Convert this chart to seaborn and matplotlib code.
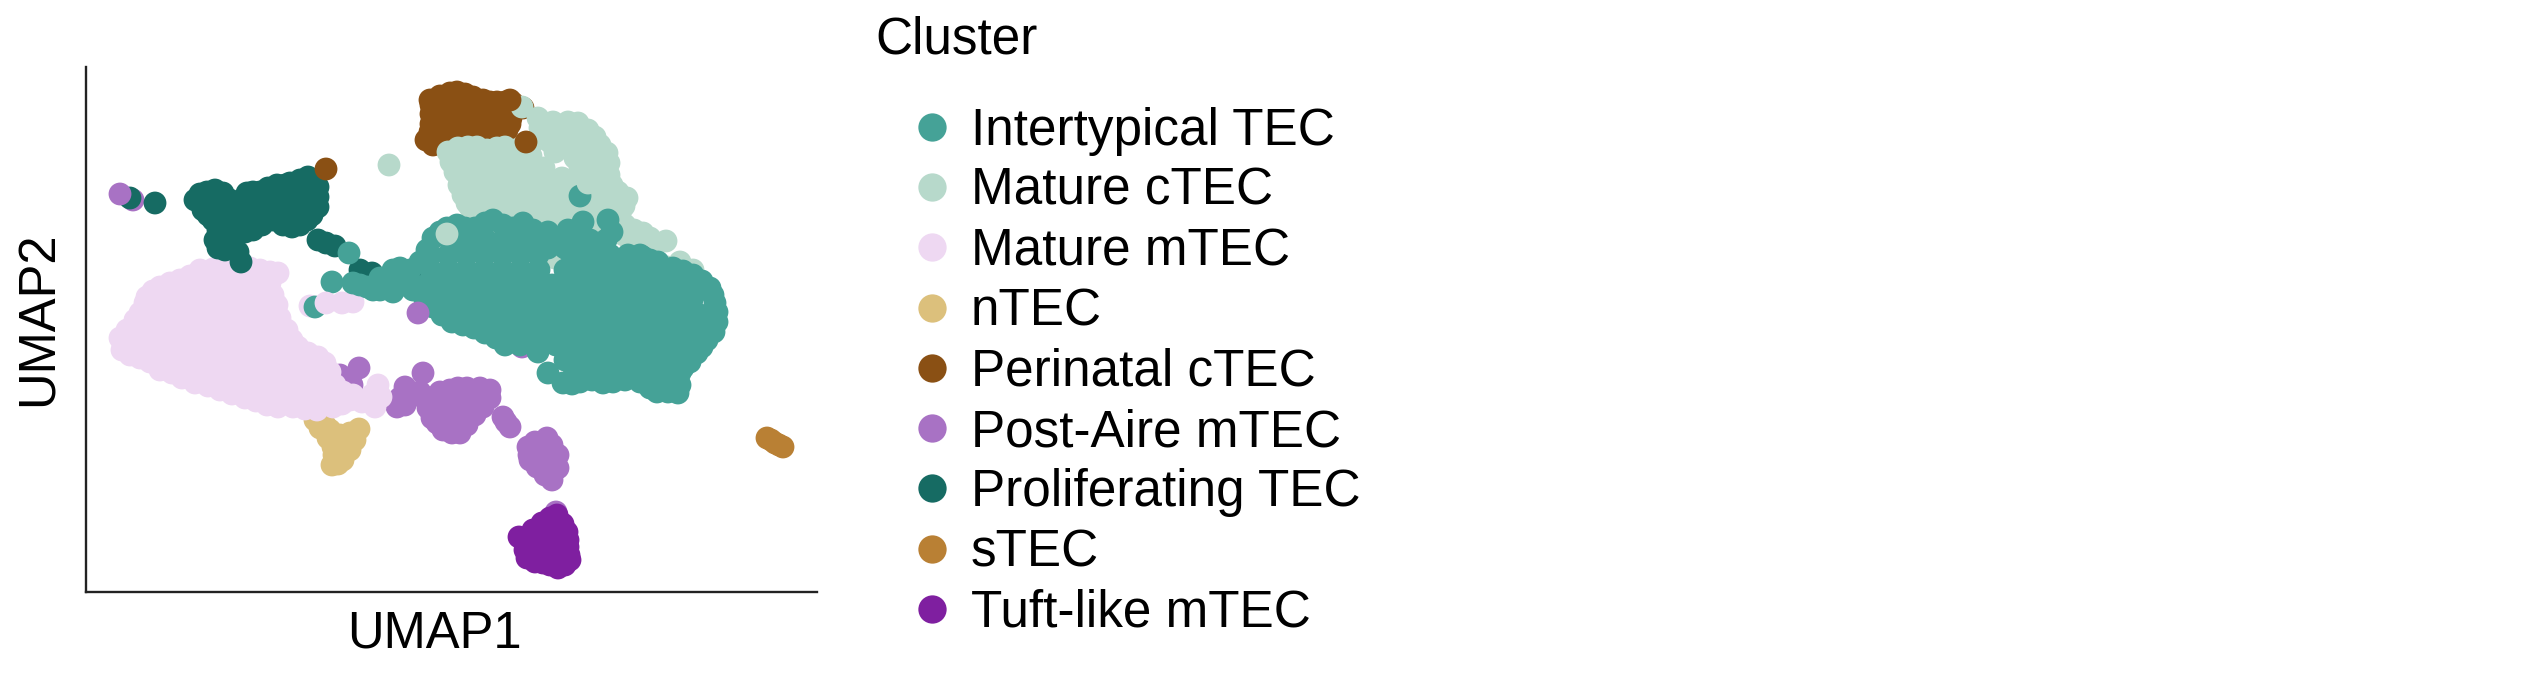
# UMAP of thymic epithelial cell clusters
import matplotlib
matplotlib.use("Agg")
import matplotlib.pyplot as plt
import pandas as pd
import seaborn as sns

# Legend order and colours
clusters = ["Intertypical TEC", "Mature cTEC", "Mature mTEC", "nTEC", "Perinatal cTEC",
            "Post-Aire mTEC", "Proliferating TEC", "sTEC", "Tuft-like mTEC"]
colors = ["#45A297", "#B7D9CB", "#EED8F2", "#DCC07C", "#8A5014",
          "#A872C4", "#166B63", "#B98034", "#7F1FA0"]

# Cell positions (x, y), on the reference's pixel grid
perinatal = [(430, 100), (440, 96), (450, 93), (457, 92), (465, 94), (473, 97), (483, 100), (490, 102), (497, 102),
             (505, 102), (513, 103), (523, 108),
             (431, 105), (441, 104), (451, 102), (461, 102), (471, 104), (481, 106), (491, 108), (501, 108), (511, 110),
             (431, 114), (441, 114), (451, 112), (461, 112), (471, 114), (481, 114), (491, 116), (501, 116), (511, 118),
             (431, 124), (441, 124), (451, 122), (461, 122), (471, 124), (481, 124), (491, 124), (501, 124), (510, 124),
             (430, 132), (440, 134), (450, 132), (460, 134), (470, 134), (480, 132), (490, 134), (500, 132), (507, 130),
             (426, 140), (433, 145), (442, 142), (452, 140), (462, 140), (472, 140), (487, 137)]
mature_ctec = [(538, 118), (553, 122), (568, 122), (578, 123), (588, 130), (595, 137), (600, 145), (607, 153),
               (609, 163), (609, 175), (612, 185), (618, 192), (627, 198), (624, 206), (620, 214), (625, 225),
               (634, 230), (643, 233), (650, 238), (666, 241), (655, 245), (540, 128), (543, 138), (533, 142),
               (555, 132), (565, 132), (575, 135), (585, 140), (550, 142), (560, 142), (570, 145), (580, 148),
               (590, 150), (600, 155),
               (448, 152), (451, 162), (455, 172), (459, 185), (463, 195), (467, 203), (470, 207), (475, 215),
               (480, 220), (458, 148), (468, 147), (477, 147), (487, 150), (497, 148), (505, 147), (515, 150),
               (525, 147),
               (463, 158), (480, 158), (497, 158), (514, 158), (531, 156), (555, 152), (575, 158), (592, 160),
               (472, 168), (490, 168), (508, 168), (526, 168), (544, 168), (562, 178), (580, 168), (598, 168),
               (477, 180), (495, 180), (513, 180), (531, 180), (549, 180), (567, 182), (585, 180), (603, 180),
               (470, 190), (486, 190), (504, 190), (522, 190), (540, 190), (558, 190), (576, 190), (594, 190),
               (610, 192), (483, 198), (501, 198), (519, 198), (537, 198), (555, 198), (573, 200), (591, 200),
               (609, 200), (488, 208), (506, 208), (524, 208), (542, 208), (560, 208), (578, 208), (596, 208),
               (614, 208), (495, 218), (513, 218), (531, 218), (549, 218), (567, 218), (585, 218), (603, 218),
               (498, 228), (516, 228), (534, 228), (552, 228), (570, 228), (588, 228), (606, 228), (624, 235),
               (630, 240), (637, 250), (650, 255), (667, 267), (680, 262), (693, 270), (555, 258), (389, 165)]
post_aire = [(133, 200), (359, 368), (345, 383), (340, 375), (350, 378), (352, 385), (340, 383),
             (423, 373), (405, 387), (397, 407), (400, 398), (410, 397), (405, 405), (415, 395), (420, 392),
             (430, 398), (428, 408), (432, 418), (437, 423), (443, 430), (452, 433), (460, 433), (467, 425),
             (475, 415), (483, 407), (490, 398), (490, 390), (480, 388), (467, 388), (458, 388), (450, 390),
             (440, 392), (440, 405), (450, 405), (460, 398), (470, 398), (480, 398), (440, 415), (450, 415),
             (460, 415), (470, 405), (450, 425), (460, 425),
             (503, 417), (506, 422), (510, 427),
             (528, 447), (535, 442), (547, 438), (552, 445), (558, 455), (558, 468), (552, 480), (545, 475),
             (537, 467), (530, 460), (529, 455), (540, 452), (548, 450), (545, 462), (555, 470),
             (556, 512), (522, 347)]
ntec = [(315, 420), (320, 428), (328, 438), (333, 447), (334, 455), (332, 465), (338, 464), (343, 460), (350, 450),
        (355, 440), (359, 429), (350, 433), (340, 435), (330, 430), (340, 445), (345, 450), (338, 455), (325, 425)]
mature_mtec = [(120, 338), (127, 330), (135, 320), (140, 313), (145, 303), (147, 297), (153, 291), (160, 287),
               (170, 283), (180, 280), (190, 276), (200, 270), (213, 269), (222, 268), (230, 263), (240, 265),
               (250, 268), (260, 270), (270, 272), (278, 273), (270, 283), (273, 295), (277, 305), (280, 318),
               (287, 330), (292, 340), (298, 347), (308, 353), (318, 357), (325, 363), (330, 372), (335, 385),
               (122, 350), (130, 355), (140, 358), (150, 362), (160, 370), (172, 373), (182, 378), (195, 383),
               (208, 386), (220, 390), (232, 394), (245, 398), (256, 401), (267, 405), (278, 407), (293, 407),
               (305, 409), (317, 410), (333, 407), (342, 404), (350, 400), (362, 402), (375, 407), (381, 397),
               (378, 385), (372, 395), (353, 395),
               (200, 282), (218, 282), (236, 282), (254, 282), (183, 290), (201, 292), (219, 292), (237, 292),
               (255, 292), (165, 298), (183, 302), (201, 302), (219, 302), (237, 302), (255, 302), (160, 308),
               (178, 312), (196, 312), (214, 312), (232, 312), (250, 312), (265, 312), (150, 320), (168, 322),
               (186, 322), (204, 322), (222, 322), (240, 322), (258, 322), (140, 330), (158, 332), (176, 332),
               (194, 332), (212, 332), (230, 332), (248, 332), (266, 332), (132, 342), (150, 342), (168, 342),
               (186, 342), (204, 342), (222, 342), (240, 342), (258, 342), (276, 342), (145, 352), (163, 352),
               (181, 352), (199, 352), (217, 352), (235, 352), (253, 352), (271, 352), (289, 352), (170, 362),
               (188, 362), (206, 362), (224, 362), (242, 362), (260, 362), (278, 362), (296, 362), (312, 365),
               (195, 372), (213, 372), (231, 372), (249, 372), (267, 372), (285, 372), (303, 372), (321, 372),
               (225, 382), (243, 382), (261, 382), (279, 382), (297, 382), (315, 382), (330, 382), (255, 392),
               (273, 392), (291, 392), (309, 392), (327, 392), (343, 392), (300, 400), (320, 400), (310, 306),
               (342, 303), (353, 302)]
proliferating = [(130, 198), (155, 203), (195, 200), (200, 194), (207, 192), (215, 190), (223, 193), (230, 200),
                 (203, 210), (208, 215), (213, 220), (218, 230), (215, 240), (218, 248), (225, 250), (233, 240),
                 (238, 252), (241, 262), (233, 235), (247, 193), (253, 192), (260, 192), (268, 188), (277, 185),
                 (285, 185), (290, 183), (300, 180), (308, 177), (316, 183), (318, 187), (318, 197), (318, 207),
                 (312, 215), (307, 220), (300, 225), (292, 227), (283, 225), (273, 220), (262, 225), (253, 230),
                 (245, 232), (318, 240), (326, 243), (335, 246), (360, 270), (372, 273), (418, 269),
                 (210, 202), (222, 205), (234, 210), (246, 205), (258, 202), (270, 198), (282, 196), (294, 194),
                 (306, 190), (262, 210), (276, 208), (290, 207), (304, 204), (218, 215), (230, 222), (245, 218),
                 (258, 218), (272, 212), (285, 216), (298, 214), (225, 232), (240, 228)]
intertypical = [(349, 253), (332, 282), (353, 283), (360, 285), (367, 287), (373, 290), (380, 290), (385, 283),
                (393, 292), (403, 285), (413, 290), (380, 278), (393, 270),
                (400, 268), (410, 270), (420, 262), (427, 250), (315, 307), (457, 225), (465, 228), (475, 228),
                (485, 223), (493, 220), (503, 225), (513, 228), (523, 223), (533, 230), (440, 232), (447, 228),
                (433, 238), (583, 222), (568, 230), (548, 232), (608, 220), (612, 232), (643, 257), (650, 260),
                (658, 262), (673, 268), (683, 271), (693, 275), (702, 281), (710, 288), (713, 295), (715, 303),
                (717, 312), (717, 322), (714, 332), (707, 340), (702, 347), (697, 353), (690, 362), (683, 368),
                (680, 373), (680, 385), (678, 393), (668, 392), (657, 392), (650, 388), (640, 382), (625, 380),
                (613, 382), (603, 383), (592, 380), (580, 382), (572, 384), (563, 383), (548, 373), (538, 352),
                (507, 343), (496, 338), (485, 333), (474, 328), (463, 325), (452, 322), (442, 315), (433, 307),
                (450, 240), (468, 240), (486, 240), (504, 240), (522, 240), (540, 240), (552, 240), (575, 240),
                (590, 240), (606, 240), (548, 248), (565, 248), (570, 252),
                (430, 255), (448, 255), (466, 255), (484, 255), (502, 255), (520, 255), (538, 255), (574, 255),
                (592, 255), (610, 255), (628, 255), (640, 255),
                (431, 270), (449, 270), (467, 270), (485, 270), (503, 270), (521, 270), (539, 270), (565, 270),
                (583, 270), (601, 270), (619, 270), (637, 270), (655, 270),
                (408, 285), (426, 285), (444, 285), (462, 285), (480, 285), (498, 285), (516, 285), (534, 285),
                (552, 285), (570, 285), (588, 285), (606, 285), (624, 285), (642, 285), (660, 285), (678, 285),
                (698, 285),
                (425, 300), (440, 300), (458, 300), (476, 300), (494, 300), (512, 300), (530, 300), (548, 300),
                (566, 300), (584, 300), (602, 300), (620, 300), (638, 300), (656, 300), (674, 300), (692, 300),
                (448, 315), (466, 315), (484, 315), (502, 315), (520, 315), (538, 315), (556, 315), (574, 315),
                (592, 315), (610, 315), (628, 315), (646, 315), (664, 315), (682, 315), (700, 315),
                (493, 330), (511, 330), (529, 330), (547, 330), (565, 330), (583, 330), (601, 330), (619, 330),
                (637, 330), (655, 330), (673, 330), (691, 330), (710, 330),
                (505, 345), (520, 345), (538, 345), (556, 345), (574, 345), (592, 345), (610, 345), (628, 345),
                (646, 345), (664, 345), (682, 345),
                (565, 360), (583, 360), (601, 360), (619, 360), (637, 360), (655, 360), (673, 360),
                (574, 375), (592, 375), (610, 375), (628, 375), (646, 375), (664, 375)]
tuft = [(570, 560), (565, 565), (558, 568), (550, 565), (543, 563), (535, 562), (527, 558), (525, 550), (519, 537),
        (528, 540), (533, 530), (542, 523), (550, 518), (557, 515), (563, 524), (567, 532), (568, 540), (568, 547),
        (569, 555), (540, 535), (550, 528), (555, 535), (545, 545), (535, 550), (558, 545), (550, 555), (560, 555),
        (540, 555)]
stec = [(767, 438), (771, 440), (775, 443), (779, 445), (783, 447)]

# A few cells that sit on top of the other clusters
late_clusters = ["Intertypical TEC", "Mature cTEC", "Perinatal cTEC", "Post-Aire mTEC", "Post-Aire mTEC",
                 "Mature cTEC", "Mature cTEC", "Perinatal cTEC", "Mature mTEC", "Perinatal cTEC"]
late_points = [(580, 196), (588, 183), (326, 169), (418, 313), (120, 194),
               (447, 234), (522, 107), (510, 100), (326, 303), (526, 142)]

AXIS_LEFT, AXIS_RIGHT, AXIS_TOP, AXIS_BOTTOM = 85.5, 816.5, 67, 591.5


def build_table():
    groups = [("Perinatal cTEC", perinatal), ("Mature cTEC", mature_ctec), ("Post-Aire mTEC", post_aire),
              ("nTEC", ntec), ("Mature mTEC", mature_mtec), ("Proliferating TEC", proliferating),
              ("Intertypical TEC", intertypical), ("Tuft-like mTEC", tuft), ("sTEC", stec)]
    rows = []
    for name, points in groups:
        rows += [(name, x, y) for x, y in points]
    rows += [(name, x, y) for name, (x, y) in zip(late_clusters, late_points)]
    return pd.DataFrame(rows, columns=["cluster", "umap1", "umap2"])


def main():
    sns.set_theme(style="white")
    plt.rcParams["font.family"] = ["Liberation Sans", "DejaVu Sans"]
    plt.rcParams["text.color"] = "black"
    plt.rcParams["axes.labelcolor"] = "black"
    fig = plt.figure(figsize=(25.4, 6.73), dpi=100)
    ax = fig.add_axes([AXIS_LEFT / 2540, (673 - AXIS_BOTTOM) / 673,
                       (AXIS_RIGHT - AXIS_LEFT) / 2540, (AXIS_BOTTOM - AXIS_TOP) / 673])

    df = build_table()
    sns.scatterplot(data=df, x="umap1", y="umap2", hue="cluster", hue_order=clusters,
                    palette=dict(zip(clusters, colors)), s=270, linewidth=0, ax=ax)

    ax.set_xlim(AXIS_LEFT, AXIS_RIGHT)
    ax.set_ylim(AXIS_BOTTOM, AXIS_TOP)
    ax.set_xticks([])
    ax.set_yticks([])
    ax.set_xlabel("UMAP1", fontsize=36.5)
    ax.set_ylabel("UMAP2", fontsize=36.5)
    # label centres measured on the reference
    ax.xaxis.set_label_coords(0.478, -0.035)
    ax.yaxis.set_label_coords(-0.03, 0.52)
    sns.despine(ax=ax)
    for side in ["left", "bottom"]:
        ax.spines[side].set_linewidth(1.7)
        ax.spines[side].set_color("#222222")

    handles, labels = ax.get_legend_handles_labels()
    legend = ax.legend(handles, labels, title="Cluster", fontsize=36.9, title_fontsize=36.9,
                       loc="upper left", bbox_to_anchor=(875 / 2540, 1 - 16 / 673),
                       bbox_transform=fig.transFigure, frameon=False, borderpad=0, borderaxespad=0,
                       handlelength=2.234, handletextpad=-0.367, labelspacing=0.22, markerscale=1.24)
    legend._legend_box.align = "left"
    legend._legend_box.sep = 30

    fig.savefig("out.png", dpi=100)
    plt.close(fig)


if __name__ == "__main__":
    main()
